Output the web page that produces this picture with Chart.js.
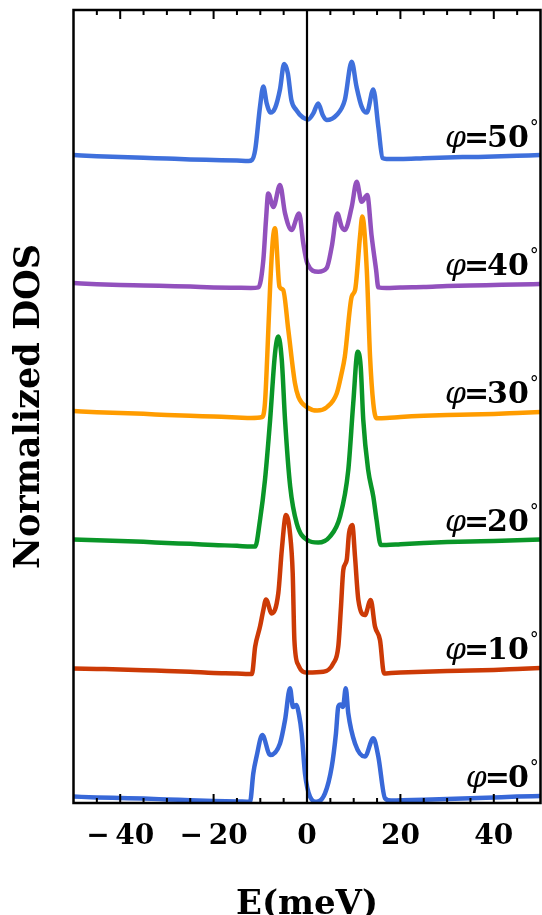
<!DOCTYPE html>
<html>
<head>
<meta charset="utf-8">
<script src="https://cdn.jsdelivr.net/npm/chart.js@4.4.1/dist/chart.umd.min.js"></script>
<style>
html,body{margin:0;padding:0;background:#fff;}
canvas{display:block;}
</style>
</head>
<body>
<canvas id="c" width="542" height="915"></canvas>
<script>
// ---- data ----
const tickVals = [-40, -20, 0, 20, 40];
const minorTickVals = [-45,-40,-35,-30,-25,-20,-15,-10,-5,0,5,10,15,20,25,30,35,40,45];
const angles = [0, 10, 20, 30, 40, 50];
const offsets = [-0.9, 2.3, 5.5, 8.7, 11.9, 15.1];
const colors = ['#3868d8', '#cc3a06', '#0a9628', '#ff9c00', '#9251bd', '#3f70dc'];

const e0 = [-50,-45,-40,-35,-30,-25,-20,-15,-12.2,-11.5,-10.8,-9.57,-7.9,-5.78,-4.7,-3.64,-3.0,-2.3,-1.7,-1.14,-0.43,0.64,2.07,3.85,5.3,6.2,6.7,7.2,7.7,8.3,8.84,10.28,12.4,14.2,15.27,16.7,18,20,25,30,35,40,45,50];
const dos0 = [1.06,1.04,1.025,1.01,0.99,0.97,0.95,0.94,0.93,1.64,2.06,2.6,2.1,2.39,2.975,3.77,3.3,3.35,3.1,2.64,1.64,1.06,0.93,1.14,1.81,2.64,3.31,3.36,3.3,3.77,3.14,2.39,2.06,2.52,2.06,1.02,0.96,0.97,0.98,1.0,1.02,1.04,1.06,1.075];

const e10 = [-50,-45,-40,-35,-30,-25,-20,-15,-12.5,-11.8,-11.1,-10.06,-9.35,-8.78,-7.56,-6.15,-5.4,-4.5,-3.64,-3.06,-2.7,-1.86,0.07,3.5,5.63,6.7,7.28,7.77,8.5,9.0,9.7,10.28,11.0,12.4,13.64,14.56,15.63,16.5,18,20,25,30,35,40,45,50];
const dos10 = [1.06,1.05,1.04,1.02,1.0,0.98,0.95,0.94,0.925,0.925,1.61,2.11,2.525,2.79,2.44,2.94,4.025,4.9,4.44,3.44,1.775,1.15,0.96,0.98,1.19,1.61,2.61,3.525,3.775,4.44,4.65,3.86,2.775,2.4,2.775,2.11,1.775,0.94,0.95,0.96,0.98,1.0,1.01,1.025,1.05,1.075];

const e20 = [-50,-45,-40,-35,-30,-25,-20,-15,-12,-11.1,-10.06,-9.0,-7.9,-6.85,-6.15,-5.4,-4.7,-3.6,-2.2,0.07,2.4,4.9,7.07,8.84,9.9,10.85,11.5,12.05,13.1,14.2,14.9,15.8,17,20,25,30,35,40,45,50];
const dos20 = [1.09,1.07,1.05,1.03,1.0,0.98,0.95,0.93,0.91,0.91,1.575,2.575,4.075,5.74,6.16,5.575,4.075,2.41,1.49,1.075,1.01,1.16,1.66,2.825,4.49,5.78,5.41,4.075,2.825,2.16,1.575,0.95,0.95,0.97,1.0,1.025,1.04,1.05,1.07,1.09];

const e30 = [-50,-45,-40,-35,-30,-25,-20,-15,-12,-9.6,-9.0,-8.5,-7.9,-7.3,-6.85,-5.9,-5.1,-4.0,-2.57,-1.86,0.07,2.2,4.2,6.36,7.4,8.1,9.57,10.3,11.35,11.84,12.8,13.5,14.2,14.9,17,20,25,30,35,40,45,50];
const dos30 = [1.1,1.07,1.05,1.03,1.0,0.98,0.96,0.94,0.925,0.95,1.3,2.5,4.2,5.4,5.67,4.21,4.125,3.125,1.79,1.46,1.19,1.11,1.19,1.54,2.04,2.46,3.96,4.125,5.46,5.96,4.625,2.46,1.29,0.92,0.925,0.95,0.98,1.0,1.01,1.025,1.05,1.075];

const e40 = [-50,-45,-40,-35,-30,-25,-20,-15,-12,-10.4,-9.35,-8.78,-8.3,-7.2,-5.78,-4.7,-3.3,-1.7,-0.79,0.07,2.4,4.2,5.3,6.5,7.4,8.1,9.57,10.64,11.7,12.9,13.85,14.8,15.27,17,20,25,30,35,40,45,50];
const dos40 = [1.1,1.07,1.05,1.04,1.025,1.01,0.99,0.98,0.975,0.99,1.675,2.675,3.34,3.0,3.55,2.84,2.425,2.84,2.09,1.59,1.38,1.47,2.01,2.84,2.51,2.425,3.0,3.63,3.13,3.3,2.26,1.425,0.99,0.975,0.99,1.0,1.025,1.04,1.05,1.06,1.075];

const e50 = [-50,-45,-40,-35,-30,-25,-20,-15,-12.5,-11.8,-11.1,-10.06,-9.35,-8.63,-7.8,-6.85,-5.8,-4.9,-4.1,-3.35,-2.3,-0.9,0.28,1.35,2.4,3.36,4.2,6.35,8.1,9.57,10.6,11.7,12.8,14.2,15.27,16.2,17,20,25,30,35,40,45,50];
const dos50 = [1.1,1.07,1.05,1.03,1.01,0.99,0.975,0.96,0.95,0.975,1.225,2.31,2.81,2.39,2.16,2.27,2.73,3.375,3.14,2.475,2.225,2.04,1.99,2.14,2.39,2.1,1.975,2.1,2.475,3.43,2.81,2.31,2.16,2.74,1.81,1.02,1.0,1.0,1.02,1.04,1.05,1.06,1.08,1.1];

const energies = [e0, e10, e20, e30, e40, e50];
const dosValues = [dos0, dos10, dos20, dos30, dos40, dos50];

const yMin = 0, yMax = 19.825;
const labelE = 47.5;
const labelLift = 1.3;

// ---- build datasets ----
const datasets = [{
  data: [{x: 0, y: yMin}, {x: 0, y: yMax}],
  borderColor: '#000', borderWidth: 2.2, pointRadius: 0, order: 0, tension: 0
}];
angles.forEach((a, i) => {
  datasets.push({
    label: 'φ=' + a + '°',
    data: energies[i].map((e, j) => ({x: e, y: dosValues[i][j] + offsets[i]})),
    borderColor: colors[i],
    borderWidth: 4.5,
    pointRadius: 0,
    cubicInterpolationMode: 'monotone',
    order: 1
  });
});

const serif = 'DejaVu Serif';

const decorPlugin = {
  id: 'decor',
  afterDraw(chart) {
    const {ctx, chartArea: ca, scales: {x, y}} = chart;
    ctx.save();
    // ticks top & bottom
    ctx.strokeStyle = '#000';
    ctx.lineWidth = 2;
    minorTickVals.forEach(v => {
      const px = x.getPixelForValue(v);
      const len = tickVals.includes(v) ? 9 : 5;
      ctx.beginPath();
      ctx.moveTo(px, ca.bottom); ctx.lineTo(px, ca.bottom - len);
      ctx.moveTo(px, ca.top); ctx.lineTo(px, ca.top + len);
      ctx.stroke();
    });
    // frame
    ctx.lineWidth = 2.5;
    ctx.strokeRect(ca.left, ca.top, ca.right - ca.left, ca.bottom - ca.top);
    // curve labels
    ctx.fillStyle = '#000';
    ctx.textBaseline = 'alphabetic';
    angles.forEach((a, i) => {
      const right = x.getPixelForValue(labelE);
      const base = y.getPixelForValue(offsets[i] + labelLift);
      const numFont = 'bold 30px "' + serif + '"';
      const phiFont = 'italic 30px "' + serif + '"';
      ctx.font = numFont;
      const wNum = ctx.measureText(String(a)).width;
      const wEq = ctx.measureText('=').width - 4;
      ctx.font = phiFont;
      const wPhi = ctx.measureText('φ').width;
      let xs = right - wNum - wEq - wPhi;
      ctx.textAlign = 'left';
      ctx.font = phiFont; ctx.fillText('φ', xs, base); xs += wPhi;
      ctx.font = numFont; ctx.fillText('=', xs - 2, base); xs += wEq;
      ctx.fillText(String(a), xs, base);
      ctx.font = '18px "' + serif + '"';
      ctx.fillText('°', right + 1, base - 14);
    });
    ctx.restore();
  }
};

new Chart(document.getElementById('c').getContext('2d'), {
  type: 'line',
  data: {datasets},
  options: {
    responsive: false,
    animation: false,
    devicePixelRatio: 1,
    layout: {padding: {top: 10, right: 1.5, left: 0, bottom: 0}},
    plugins: {legend: {display: false}, tooltip: {enabled: false}},
    scales: {
      x: {
        type: 'linear', min: -50, max: 50,
        afterFit: s => { s.height = 112; },
        afterBuildTicks: s => { s.ticks = tickVals.map(v => ({value: v})); },
        grid: {display: false}, border: {display: false},
        ticks: {
          padding: 9, color: '#000',
          font: {family: serif, weight: 'bold', size: 28},
          callback: v => (v < 0 ? '\u2212\u2009' : '') + Math.abs(v)
        },
        title: {display: true, text: 'E(meV)', color: '#000',
          font: {family: serif, weight: 'bold', size: 34, lineHeight: 0.6},
          padding: {top: 0, bottom: 0}}
      },
      y: {
        type: 'linear', min: yMin, max: yMax,
        afterFit: s => { s.width = 73.5; },
        grid: {display: false}, border: {display: false},
        ticks: {display: false},
        title: {display: true, text: 'Normalized DOS', color: '#000',
          font: {family: serif, weight: 'bold', size: 35, lineHeight: 1},
          padding: {top: 12, bottom: 0}}
      }
    }
  },
  plugins: [decorPlugin]
});
</script>
</body>
</html>
